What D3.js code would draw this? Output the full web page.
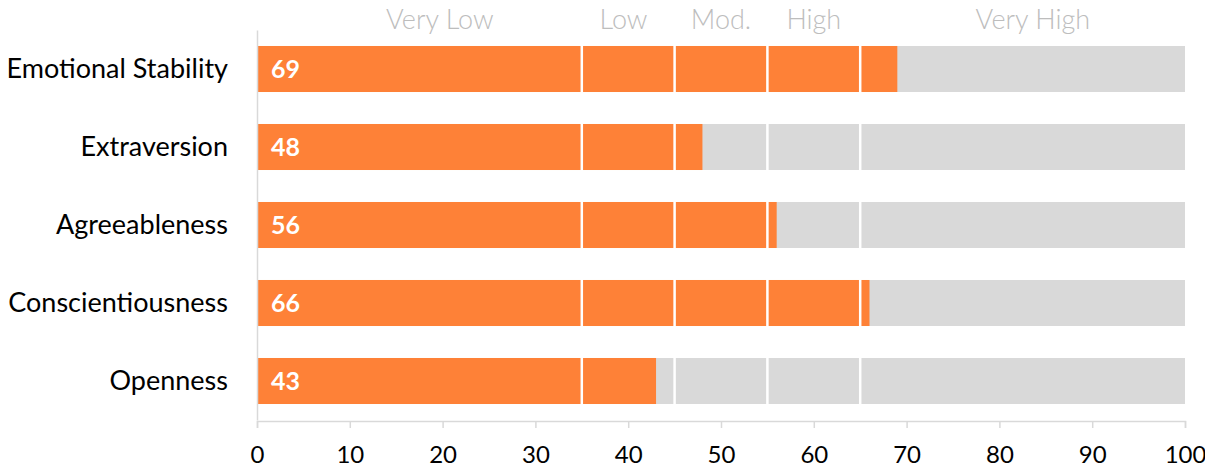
<!DOCTYPE html>
<html>
<head>
<meta charset="utf-8">
<script src="https://cdn.jsdelivr.net/npm/d3@7"></script>
<style>
  html, body { margin: 0; padding: 0; background: #ffffff; }
  svg { display: block; }
</style>
</head>
<body>
<svg id="chart" width="1205" height="468"></svg>
<script>
// Big Five trait scores (percentile, 0–100)
const traits = ["Emotional Stability", "Extraversion", "Agreeableness", "Conscientiousness", "Openness"];
const scores = [69, 48, 56, 66, 43];

// Score band boundaries and the band captions along the top
const bandBreaks = [35, 45, 55, 65];
const bandNames = ["Very Low", "Low", "Mod.", "High", "Very High"];
const bandNameAt = [19.7, 39.5, 50, 60, 83.6];

const xTicks = [0, 10, 20, 30, 40, 50, 60, 70, 80, 90, 100];
const xMax = 100;

const svg = d3.select("#chart");
const font = "Lato, 'Open Sans', sans-serif";

const x = d3.scaleLinear().domain([0, xMax]).range([257, 1185]);
const y = d3.scaleBand().domain(traits).range([30, 420])
  .paddingInner(0.41).paddingOuter(0.205);

// grey track (full scale) behind each bar
svg.append("g").selectAll("rect").data(traits).join("rect")
  .attr("x", x(0)).attr("y", d => y(d))
  .attr("width", x(xMax) - x(0)).attr("height", y.bandwidth())
  .attr("fill", "#d9d9d9");

// score bars
svg.append("g").selectAll("rect").data(scores).join("rect")
  .attr("x", x(0)).attr("y", (d, i) => y(traits[i]))
  .attr("width", d => x(d) - x(0)).attr("height", y.bandwidth())
  .attr("fill", "#fe8137");

// white band separators
svg.append("g").selectAll("line").data(bandBreaks).join("line")
  .attr("x1", d => x(d)).attr("x2", d => x(d))
  .attr("y1", 30).attr("y2", 420)
  .attr("stroke", "#ffffff").attr("stroke-width", 2.5);

// score labels inside bars
svg.append("g").selectAll("text").data(scores).join("text")
  .attr("x", x(0) + 14).attr("y", (d, i) => y(traits[i]) + y.bandwidth() / 2)
  .attr("dy", "0.36em")
  .attr("fill", "#ffffff").attr("font-family", font)
  .attr("font-weight", 700).attr("font-size", 25)
  .text(d => d);

// band captions
svg.append("g").selectAll("text").data(bandNames).join("text")
  .attr("x", (d, i) => x(bandNameAt[i])).attr("y", 19)
  .attr("dy", "0.36em").attr("text-anchor", "middle")
  .attr("fill", "#bdbdbd").attr("font-family", font)
  .attr("font-weight", 300).attr("font-size", 27)
  .text(d => d);

// category axis
const yAxis = svg.append("g").attr("transform", `translate(${x(0)},0)`)
  .call(d3.axisLeft(y).tickSize(0).tickPadding(29));
yAxis.select(".domain").attr("stroke", "#d9d9d9").attr("stroke-width", 1.5);
yAxis.selectAll("text").attr("font-family", font).attr("font-size", 27)
  .attr("fill", "#000000");

// value axis
const xAxis = svg.append("g").attr("transform", "translate(0,421)")
  .call(d3.axisBottom(x).tickValues(xTicks).tickSize(7).tickPadding(18).tickSizeOuter(7));
xAxis.select(".domain").attr("stroke", "#d9d9d9").attr("stroke-width", 1.5);
xAxis.selectAll(".tick line").attr("stroke", "#d9d9d9").attr("stroke-width", 1.5);
xAxis.selectAll("text").attr("font-family", font).attr("font-size", 24)
  .attr("fill", "#000000");
</script>
</body>
</html>
